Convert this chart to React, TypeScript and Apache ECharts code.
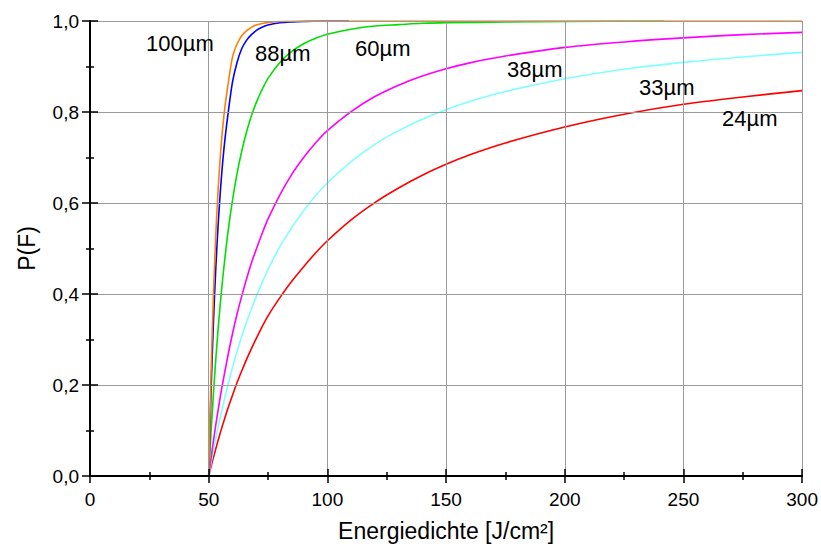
import React, { useEffect, useRef } from "react";
import * as echarts from "echarts";

// Energy density (J/cm²) sample positions
const F_100 = [50, 51, 52, 53, 54, 55, 56, 57, 58, 60, 62, 64, 66, 68, 70, 75, 80, 90, 100, 150, 200, 250, 300];
const P_100 = [0, 0.227, 0.399, 0.531, 0.632, 0.71, 0.771, 0.818, 0.855, 0.92, 0.95, 0.968, 0.979, 0.986, 0.991, 0.997, 0.999, 1, 1, 1, 1, 1, 1];

const F_88 = [50, 51, 52, 53, 54, 55, 56, 57, 58, 60, 62, 64, 66, 68, 70, 72, 75, 80, 85, 90, 100, 109];
const P_88 = [0, 0.188, 0.338, 0.458, 0.554, 0.632, 0.696, 0.747, 0.79, 0.865, 0.91, 0.94, 0.958, 0.97, 0.979, 0.985, 0.991, 0.996, 0.998, 0.999, 1, 1];

const F_60 = [50, 51, 52, 53, 54, 55, 56, 58, 60, 62, 64, 66, 68, 70, 72, 75, 80, 85, 90, 95, 100, 110, 120, 130, 140, 150, 175, 200, 242];
const P_60 = [0, 0.096, 0.181, 0.257, 0.325, 0.385, 0.439, 0.531, 0.605, 0.666, 0.716, 0.757, 0.792, 0.82, 0.844, 0.874, 0.909, 0.933, 0.95, 0.962, 0.971, 0.982, 0.989, 0.992, 0.995, 0.996, 0.998, 0.999, 1];

const F_FULL = [50, 51, 52, 53, 54, 55, 56, 58, 60, 62, 64, 66, 68, 70, 72, 75, 80, 85, 90, 95, 100, 110, 120, 130, 140, 150, 160, 175, 200, 225, 250, 275, 300];
const P_38 = [0, 0.04, 0.077, 0.113, 0.146, 0.178, 0.207, 0.262, 0.312, 0.357, 0.397, 0.434, 0.468, 0.498, 0.526, 0.565, 0.618, 0.663, 0.7, 0.732, 0.759, 0.801, 0.834, 0.859, 0.879, 0.895, 0.908, 0.923, 0.942, 0.954, 0.963, 0.97, 0.975];
const P_33 = [0, 0.029, 0.057, 0.083, 0.108, 0.132, 0.155, 0.198, 0.238, 0.274, 0.308, 0.339, 0.367, 0.394, 0.419, 0.454, 0.504, 0.546, 0.583, 0.616, 0.644, 0.691, 0.729, 0.759, 0.784, 0.805, 0.823, 0.845, 0.873, 0.894, 0.909, 0.921, 0.931];
const P_24 = [0, 0.021, 0.041, 0.06, 0.079, 0.097, 0.114, 0.147, 0.177, 0.206, 0.232, 0.257, 0.28, 0.302, 0.323, 0.352, 0.392, 0.428, 0.46, 0.49, 0.517, 0.563, 0.601, 0.633, 0.661, 0.685, 0.706, 0.732, 0.767, 0.795, 0.817, 0.833, 0.847];

const SERIES_NAMES = ["24µm", "33µm", "38µm", "60µm", "88µm", "100µm"];

const FONT = "'Liberation Sans', Arial, sans-serif";

const zip = (xs: number[], ys: number[]) => xs.map((x, i) => [x, ys[i]]);

export default function App() {
  const ref = useRef<HTMLDivElement>(null);

  useEffect(() => {
    document.body.style.margin = "0";
    const chart = echarts.init(ref.current!, null, { renderer: "svg" });

    const mkLine = (name: string, data: number[][], color: string) => ({
      name,
      type: "line",
      data,
      xAxisIndex: 0,
      yAxisIndex: 0,
      showSymbol: false,
      symbol: "none",
      smooth: 0.3,
      lineStyle: { color, width: 1.6 },
      z: 3,
    });

    const commonTickStyle = { color: "#000", width: 1.5 };

    const label = (text: string, x: number, y: number) => ({
      type: "text",
      x,
      y,
      style: {
        text,
        fontSize: 22,
        fontFamily: FONT,
        fill: "#000",
        textAlign: "left",
        textVerticalAlign: "middle",
      },
      z: 10,
    });

    chart.setOption({
      animation: false,
      backgroundColor: "#fff",
      grid: { left: 90, right: 15, top: 21, bottom: 71, containLabel: false },
      xAxis: [
        {
          type: "value",
          min: 0,
          max: 300,
          interval: 50,
          position: "bottom",
          name: "Energiedichte [J/cm²]",
          nameLocation: "middle",
          nameGap: 43,
          nameTextStyle: { fontSize: 23, fontFamily: FONT, color: "#000" },
          axisLine: { show: true, onZero: false, lineStyle: { color: "#000", width: 2 } },
          axisTick: { show: true, inside: false, length: 7, lineStyle: commonTickStyle },
          minorTick: { show: true, splitNumber: 2, length: 4, lineStyle: commonTickStyle },
          axisLabel: { fontSize: 19, fontFamily: FONT, color: "#000", margin: 14 },
          splitLine: { show: true, lineStyle: { color: "#9a9a9a", width: 1 } },
          minorSplitLine: { show: false },
          z: 5,
        },
        {
          type: "value",
          min: 0,
          max: 300,
          interval: 50,
          position: "bottom",
          axisLine: { show: false },
          axisTick: { show: true, inside: true, length: 7, lineStyle: commonTickStyle },
          minorTick: { show: true, splitNumber: 2, length: 4, lineStyle: commonTickStyle },
          axisLabel: { show: false },
          splitLine: { show: false },
          z: 5,
        },
      ],
      yAxis: [
        {
          type: "value",
          min: 0,
          max: 1,
          interval: 0.2,
          position: "left",
          name: "P(F)",
          nameLocation: "middle",
          nameGap: 52,
          nameTextStyle: { fontSize: 23, fontFamily: FONT, color: "#000" },
          axisLine: { show: true, onZero: false, lineStyle: { color: "#000", width: 2 } },
          axisTick: { show: true, inside: false, length: 8, lineStyle: commonTickStyle },
          minorTick: { show: true, splitNumber: 2, length: 4, lineStyle: commonTickStyle },
          axisLabel: {
            fontSize: 19,
            fontFamily: FONT,
            color: "#000",
            margin: 11,
            formatter: (v: number) => v.toFixed(1).replace(".", ","),
          },
          splitLine: { show: true, lineStyle: { color: "#9a9a9a", width: 1 } },
          z: 5,
        },
        {
          type: "value",
          min: 0,
          max: 1,
          interval: 0.2,
          position: "left",
          axisLine: { show: false },
          axisTick: { show: true, inside: true, length: 8, lineStyle: commonTickStyle },
          minorTick: { show: true, splitNumber: 2, length: 4, lineStyle: commonTickStyle },
          axisLabel: { show: false },
          splitLine: { show: false },
          z: 5,
        },
      ],
      series: [
        mkLine(SERIES_NAMES[0], zip(F_FULL, P_24), "#ff0000"),
        mkLine(SERIES_NAMES[1], zip(F_FULL, P_33), "#80ffff"),
        mkLine(SERIES_NAMES[2], zip(F_FULL, P_38), "#ff00ff"),
        mkLine(SERIES_NAMES[3], zip(F_60, P_60), "#00e000"),
        mkLine(SERIES_NAMES[4], zip(F_88, P_88), "#0000ff"),
        mkLine(SERIES_NAMES[5], zip(F_100, P_100), "#ff8000"),
      ],
      graphic: [
        label(SERIES_NAMES[5], 146, 43),
        label(SERIES_NAMES[4], 255, 53),
        label(SERIES_NAMES[3], 355, 48),
        label(SERIES_NAMES[2], 507, 69),
        label(SERIES_NAMES[1], 639, 87),
        label(SERIES_NAMES[0], 722, 118),
      ],
    });

    return () => chart.dispose();
  }, []);

  return <div ref={ref} style={{ width: 821, height: 547 }} />;
}
